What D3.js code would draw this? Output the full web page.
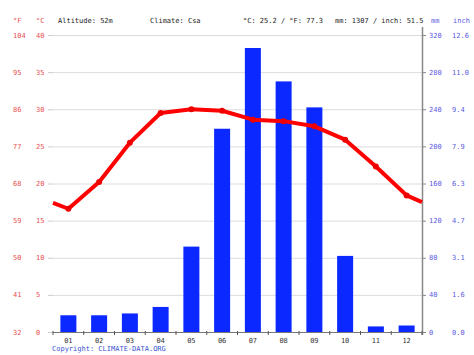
<!DOCTYPE html>
<html><head><meta charset="utf-8">
<script src="https://cdn.jsdelivr.net/npm/d3@7"></script>
<style>body{margin:0;background:#fff}svg{display:block}text{font-family:"DejaVu Sans Mono",monospace}</style>
</head><body>
<svg id="c" width="474" height="355"></svg>
<script>
const months = ["01","02","03","04","05","06","07","08","09","10","11","12"];
const tempC = [16.6,20.2,25.5,29.5,30.0,29.8,28.6,28.4,27.7,25.9,22.3,18.4];
const tempEdges = [17.4,17.5];
const precipMm = [18,18,20,27,92,219,306,270,242,82,6,7];
const cTicks = [0,5,10,15,20,25,30,35,40];
const fLabels = ["32","41","50","59","68","77","86","95","104"];
const mmTicks = [0,40,80,120,160,200,240,280,320];
const inchLabels = ["0.0","1.6","3.1","4.7","6.3","7.9","9.4","11.0","12.6"];
const header = {alt:"Altitude: 52m", clim:"Climate: Csa", temp:"°C: 25.2 / °F: 77.3", prec:"mm: 1307 / inch: 51.5"};

const svg = d3.select("#c");
const L=53, R=422, T=35, B=332;
const x = d3.scaleBand().domain(months).range([L,R]);
const yT = d3.scaleLinear().domain([0,40]).range([B,T]);
const yP = d3.scaleLinear().domain([0,320]).range([B,T]);
const red="#e85050", blue="#5a5ae0", fs="7px";

// grid
svg.append("g").selectAll("line").data(cTicks.slice(1)).join("line")
  .attr("x1",L).attr("x2",R).attr("y1",d=>yT(d)+0.5).attr("y2",d=>yT(d)+0.5)
  .attr("stroke","#dcdcdc").attr("stroke-width",1);
// left ticks
svg.append("g").selectAll("line").data(cTicks).join("line")
  .attr("x1",48).attr("x2",L).attr("y1",d=>yT(d)+0.5).attr("y2",d=>yT(d)+0.5)
  .attr("stroke","#ccc");
// left labels
svg.append("g").selectAll("text").data(cTicks).join("text")
  .attr("x",36).attr("y",d=>yT(d)+2.5).text(d=>d).attr("fill",red).attr("font-size",fs);
svg.append("g").selectAll("text").data(fLabels).join("text")
  .attr("x",13).attr("y",(d,i)=>yT(cTicks[i])+2.5).text(d=>d).attr("fill",red).attr("font-size",fs);
// right labels
svg.append("g").selectAll("text").data(mmTicks).join("text")
  .attr("x",429).attr("y",d=>yP(d)+2.5).text(d=>d).attr("fill",blue).attr("font-size",fs);
svg.append("g").selectAll("text").data(inchLabels).join("text")
  .attr("x",452).attr("y",(d,i)=>yP(mmTicks[i])+2.5).text(d=>d).attr("fill",blue).attr("font-size",fs);
svg.append("g").selectAll("line").data(mmTicks).join("line")
  .attr("x1",R).attr("x2",R+4).attr("y1",d=>yP(d)+0.5).attr("y2",d=>yP(d)+0.5).attr("stroke","#888");

// bars
const bw = 16;
svg.append("g").selectAll("rect").data(precipMm).join("rect")
  .attr("x",(d,i)=>x(months[i])+x.bandwidth()/2-bw/2).attr("width",bw)
  .attr("y",d=>yP(d)).attr("height",d=>B-yP(d)).attr("fill","#0a28ff");

// axes lines
svg.append("line").attr("x1",L).attr("x2",R).attr("y1",B+0.5).attr("y2",B+0.5).attr("stroke","#777");
svg.append("line").attr("x1",R+0.5).attr("x2",R+0.5).attr("y1",27).attr("y2",B+3).attr("stroke","#888").attr("stroke-width",1.5);
svg.append("g").selectAll("line").data(d3.range(13)).join("line")
  .attr("x1",i=>L+i*x.step()).attr("x2",i=>L+i*x.step()).attr("y1",B-1).attr("y2",B+3).attr("stroke","#555");
svg.append("g").selectAll("text").data(months).join("text")
  .attr("x",d=>x(d)+x.bandwidth()/2).attr("y",343).attr("text-anchor","middle")
  .text(d=>d).attr("fill","#333").attr("font-size",fs);

// temp line
const pts = [[L,tempEdges[0]]].concat(tempC.map((t,i)=>[x(months[i])+x.bandwidth()/2,t]),[[R,tempEdges[1]]]);
svg.append("path").datum(pts).attr("d",d3.line().x(d=>d[0]).y(d=>yT(d[1])))
  .attr("fill","none").attr("stroke","#f00").attr("stroke-width",4).attr("stroke-linejoin","round");
svg.append("g").selectAll("circle").data(tempC).join("circle")
  .attr("cx",(d,i)=>x(months[i])+x.bandwidth()/2).attr("cy",d=>yT(d)).attr("r",3).attr("fill","#e00");

// header
svg.append("text").attr("x",13).attr("y",23).text("°F").attr("fill",red).attr("font-size",fs);
svg.append("text").attr("x",36).attr("y",23).text("°C").attr("fill",red).attr("font-size",fs);
svg.append("text").attr("x",58).attr("y",23).text(header.alt).attr("fill","#222").attr("font-size",fs);
svg.append("text").attr("x",150).attr("y",23).text(header.clim).attr("fill","#222").attr("font-size",fs);
svg.append("text").attr("x",243).attr("y",23).text(header.temp).attr("fill","#222").attr("font-size",fs);
svg.append("text").attr("x",335).attr("y",23).text(header.prec).attr("fill","#222").attr("font-size",fs);
svg.append("text").attr("x",431).attr("y",23).text("mm").attr("fill",blue).attr("font-size",fs);
svg.append("text").attr("x",453).attr("y",23).text("inch").attr("fill",blue).attr("font-size",fs);
svg.append("text").attr("x",52).attr("y",351).text("Copyright: CLIMATE-DATA.ORG").attr("fill","#3a55d0").attr("font-size",fs);
</script>
</body></html>
